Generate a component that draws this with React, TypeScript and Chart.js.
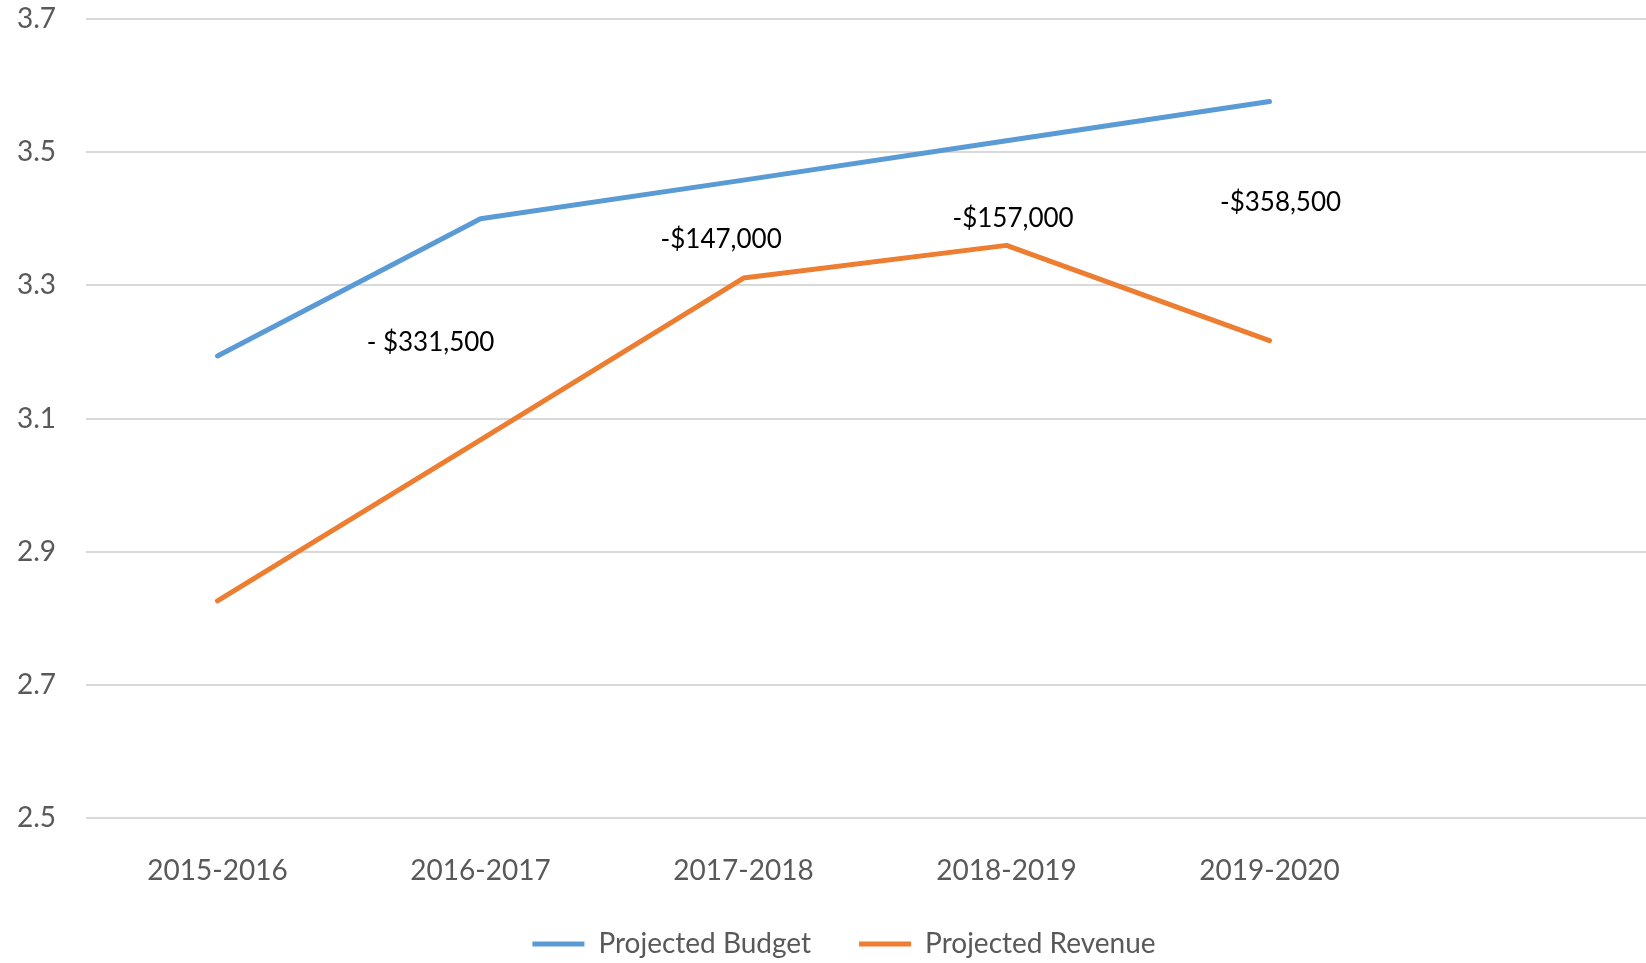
import React, { useEffect, useRef } from "react";
import { Chart, registerables } from "chart.js";

Chart.register(...registerables);

const categories = ["2015-2016", "2016-2017", "2017-2018", "2018-2019", "2019-2020", ""];
const projectedBudget = [3.194, 3.4, 3.458, 3.517, 3.576];
const projectedRevenue = [2.826, 3.068, 3.311, 3.36, 3.217];
const yTicks = [2.5, 2.7, 2.9, 3.1, 3.3, 3.5, 3.7];

const gapLabels = ["- $331,500", "-$147,000", "-$157,000", "-$358,500"];
const gapLabelX = [0.81, 1.915, 3.025, 4.042];
const gapLabelY = [3.214, 3.369, 3.4, 3.424];

const FONT = "Lato, 'Open Sans', sans-serif";

const gapLabelPlugin = {
  id: "gapLabels",
  afterDatasetsDraw(chart: any) {
    const { ctx, scales } = chart;
    ctx.save();
    ctx.font = `26px ${FONT}`;
    ctx.fillStyle = "#000000";
    ctx.textAlign = "center";
    ctx.textBaseline = "middle";
    gapLabels.forEach((t, i) => {
      const x = scales.x.getPixelForValue(gapLabelX[i]);
      const y = scales.y.getPixelForValue(gapLabelY[i]);
      ctx.fillText(t, x, y);
    });
    ctx.restore();
  },
};

export default function App() {
  const ref = useRef<HTMLCanvasElement | null>(null);
  useEffect(() => {
    document.body.style.margin = "0";
    const canvas = ref.current!;
    const chart = new Chart(canvas, {
      type: "line",
      data: {
        labels: categories,
        datasets: [
          {
            label: "Projected Budget",
            data: projectedBudget,
            borderColor: "#5B9BD5",
            backgroundColor: "#5B9BD5",
            borderWidth: 5,
            borderCapStyle: "round",
            borderJoinStyle: "round",
            pointRadius: 0,
            tension: 0,
            fill: false,
          },
          {
            label: "Projected Revenue",
            data: projectedRevenue,
            borderColor: "#ED7D31",
            backgroundColor: "#ED7D31",
            borderWidth: 5,
            borderCapStyle: "round",
            borderJoinStyle: "round",
            pointRadius: 0,
            tension: 0,
            fill: false,
          },
        ],
      },
      options: {
        animation: false,
        responsive: false,
        maintainAspectRatio: false,
        devicePixelRatio: 1,
        layout: { padding: { left: 0, right: 0, top: 19, bottom: 0 } },
        plugins: {
          tooltip: { enabled: false },
          legend: {
            position: "bottom",
            labels: {
              usePointStyle: true,
              pointStyle: "line",
              pointStyleWidth: 52,
              padding: 48,
              color: "#595959",
              font: { family: FONT, size: 28 },
            },
          },
        },
        scales: {
          x: {
            type: "category",
            offset: true,
            grid: { display: false, drawTicks: false },
            border: { display: false },
            ticks: {
              color: "#595959",
              font: { family: FONT, size: 28 },
              padding: 36,
              maxRotation: 0,
              autoSkip: false,
            },
            afterFit: (s: any) => {
              s.height = 64;
              s.paddingLeft = 0;
              s.paddingRight = 0;
            },
          },
          y: {
            min: 2.5,
            max: 3.7,
            grid: { color: "#d9d9d9", lineWidth: 2, drawTicks: false },
            border: { display: false },
            afterBuildTicks: (s: any) => {
              s.ticks = yTicks.map((v) => ({ value: v }));
            },
            ticks: {
              color: "#595959",
              font: { family: FONT, size: 28 },
              padding: 30,
              callback: (v: any) => Number(v).toFixed(1),
            },
            afterFit: (s: any) => {
              s.width = 86;
              s.paddingTop = 0;
              s.paddingBottom = 0;
            },
          },
          rightSpace: {
            type: "linear",
            position: "right",
            min: 0,
            max: 1,
            grid: { display: false, drawTicks: false },
            border: { display: false },
            ticks: { display: false },
            afterFit: (s: any) => {
              s.width = 24;
              s.paddingTop = 0;
              s.paddingBottom = 0;
            },
          },
        },
      },
      plugins: [gapLabelPlugin],
    });
    return () => chart.destroy();
  }, []);
  return (
    <div style={{ position: "relative", width: 1646, height: 963, overflow: "hidden", background: "#fff" }}>
      <canvas
        ref={ref}
        width={1688}
        height={968}
        style={{ position: "absolute", left: 0, top: 0, width: 1688, height: 968 }}
      />
    </div>
  );
}
